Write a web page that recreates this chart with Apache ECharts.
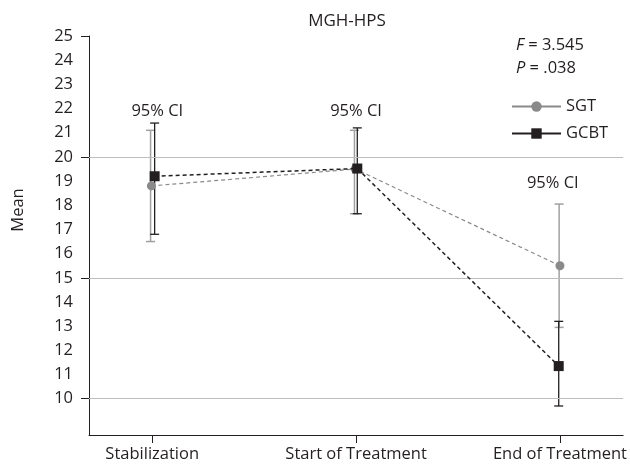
<!DOCTYPE html>
<html>
<head>
<meta charset="utf-8">
<script src="https://cdn.jsdelivr.net/npm/echarts@6/dist/echarts.min.js"></script>
<style>
html,body{margin:0;padding:0;background:#fff;}
#c{width:630px;height:467px;}
</style>
</head>
<body>
<div id="c"></div>
<script>
const categories = ['Stabilization', 'Start of Treatment', 'End of Treatment'];
const sgtMean = [18.8, 19.5, 15.5];
const sgtLow = [16.5, 17.65, 12.95];
const sgtHigh = [21.1, 21.1, 18.05];
const gcbtMean = [19.2, 19.52, 11.35];
const gcbtLow = [16.8, 17.65, 9.7];
const gcbtHigh = [21.4, 21.2, 13.2];
const yLabelValues = [10, 11, 12, 13, 14, 15, 16, 17, 18, 19, 20, 21, 22, 23, 24, 25];
const yTickValues = [10, 15, 20, 25];
const gridValues = [10, 15, 20];
const ciLabelY = [21.9, 21.9, 18.9];
const statLines = [['F', ' = 3.545'], ['P', ' = .038']];

const FONT = 'Open Sans';
const FS = 16.5;
const TXT = '#231f20';
const SGT_COLOR = '#8a8a8a';
const GCBT_COLOR = '#231f20';
const sgtOff = [-0.004, -0.004, 0];
const gcbtOff = [0.012, 0.006, -0.006];
const ciOff = [0.025, 0, -0.035];

function errRender(color, width) {
  return function (params, api) {
    const x = api.value(0), lo = api.value(1), hi = api.value(2);
    const a = api.coord([x, lo]), b = api.coord([x, hi]);
    const hw = 4.5;
    const st = { stroke: color, lineWidth: width };
    return {
      type: 'group',
      children: [
        { type: 'line', shape: { x1: a[0], y1: a[1], x2: b[0], y2: b[1] }, style: st },
        { type: 'line', shape: { x1: b[0] - hw, y1: b[1], x2: b[0] + hw, y2: b[1] }, style: st },
        { type: 'line', shape: { x1: a[0] - hw, y1: a[1], x2: a[0] + hw, y2: a[1] }, style: st }
      ]
    };
  };
}

const chart = echarts.init(document.getElementById('c'), null, { renderer: 'canvas' });
chart.setOption({
  animation: false,
  textStyle: { fontFamily: FONT, color: TXT },
  grid: { left: 89, right: 3, top: 36, bottom: 32, containLabel: false },
  xAxis: {
    type: 'value', min: -0.31, max: 2.31,
    axisLine: { show: true, onZero: false, lineStyle: { color: TXT, width: 1 } },
    axisTick: { show: true, customValues: [0, 1, 2], length: 8, lineStyle: { color: TXT } },
    axisLabel: {
      customValues: [0, 1, 2], fontSize: FS, color: TXT, fontFamily: FONT, margin: 11,
      formatter: v => categories[Math.round(v)]
    },
    splitLine: { show: false }
  },
  yAxis: {
    type: 'value', min: 8.5, max: 25,
    axisLine: { show: true, onZero: false, lineStyle: { color: TXT, width: 1 } },
    axisTick: { show: true, customValues: yTickValues, length: 8, lineStyle: { color: TXT } },
    axisLabel: { customValues: yLabelValues, fontSize: FS, color: TXT, fontFamily: FONT, margin: 16 },
    splitLine: { show: false }
  },
  legend: {
    orient: 'vertical', left: 506, top: 93, itemWidth: 49, itemHeight: 13, itemGap: 10,
    textStyle: { fontSize: FS, color: TXT, fontFamily: FONT },
    lineStyle: { type: 'solid' },
    data: ['SGT', 'GCBT']
  },
  graphic: [
    { type: 'text', x: 347, y: 21, style: { text: 'MGH-HPS', font: '17px "Open Sans"', fill: TXT, textAlign: 'center', textVerticalAlign: 'middle' } },
    { type: 'text', x: 18, y: 210, rotation: Math.PI / 2, style: { text: 'Mean', font: FS + 'px "Open Sans"', fill: TXT, textAlign: 'center', textVerticalAlign: 'middle' } }
  ].concat(statLines.map((s, i) => ({
    type: 'text', x: 516, y: 45 + i * 23,
    style: {
      text: '{i|' + s[0] + '}' + s[1], fill: TXT, textVerticalAlign: 'middle',
      font: FS + 'px "Open Sans"',
      rich: { i: { fontStyle: 'italic', fontSize: FS, fontFamily: FONT, fill: TXT } }
    }
  }))),
  series: [
    {
      type: 'custom', name: 'SGT-err', z: 2,
      renderItem: errRender('#a0a0a0', 1.5),
      encode: { x: 0, y: [1, 2] },
      data: categories.map((c, i) => [i + sgtOff[i] - 0.004, sgtLow[i], sgtHigh[i]]),
      markLine: {
        silent: true, symbol: 'none', label: { show: false },
        lineStyle: { color: '#bdbdbd', width: 1, type: 'solid' },
        data: gridValues.map(v => ({ yAxis: v }))
      },
      markPoint: {
        symbol: 'circle', symbolSize: 0, silent: true,
        label: { show: true, position: 'inside', formatter: '95% CI', fontSize: FS, color: TXT, fontFamily: FONT },
        data: categories.map((c, i) => ({ coord: [i + ciOff[i], ciLabelY[i]] }))
      }
    },
    {
      type: 'custom', name: 'GCBT-err', z: 2,
      renderItem: errRender(GCBT_COLOR, 1.3),
      encode: { x: 0, y: [1, 2] },
      data: categories.map((c, i) => [i + gcbtOff[i], gcbtLow[i], gcbtHigh[i]])
    },
    {
      type: 'line', name: 'SGT', z: 4,
      data: categories.map((c, i) => [i + sgtOff[i], sgtMean[i]]),
      symbol: 'circle', symbolSize: 9,
      itemStyle: { color: SGT_COLOR },
      lineStyle: { color: SGT_COLOR, width: 1.2, type: [4, 3] }
    },
    {
      type: 'line', name: 'GCBT', z: 5,
      data: categories.map((c, i) => [i + gcbtOff[i], gcbtMean[i]]),
      symbol: 'rect', symbolSize: 10,
      itemStyle: { color: GCBT_COLOR },
      lineStyle: { color: GCBT_COLOR, width: 1.5, type: [4, 3] }
    }
  ]
});
</script>
</body>
</html>
